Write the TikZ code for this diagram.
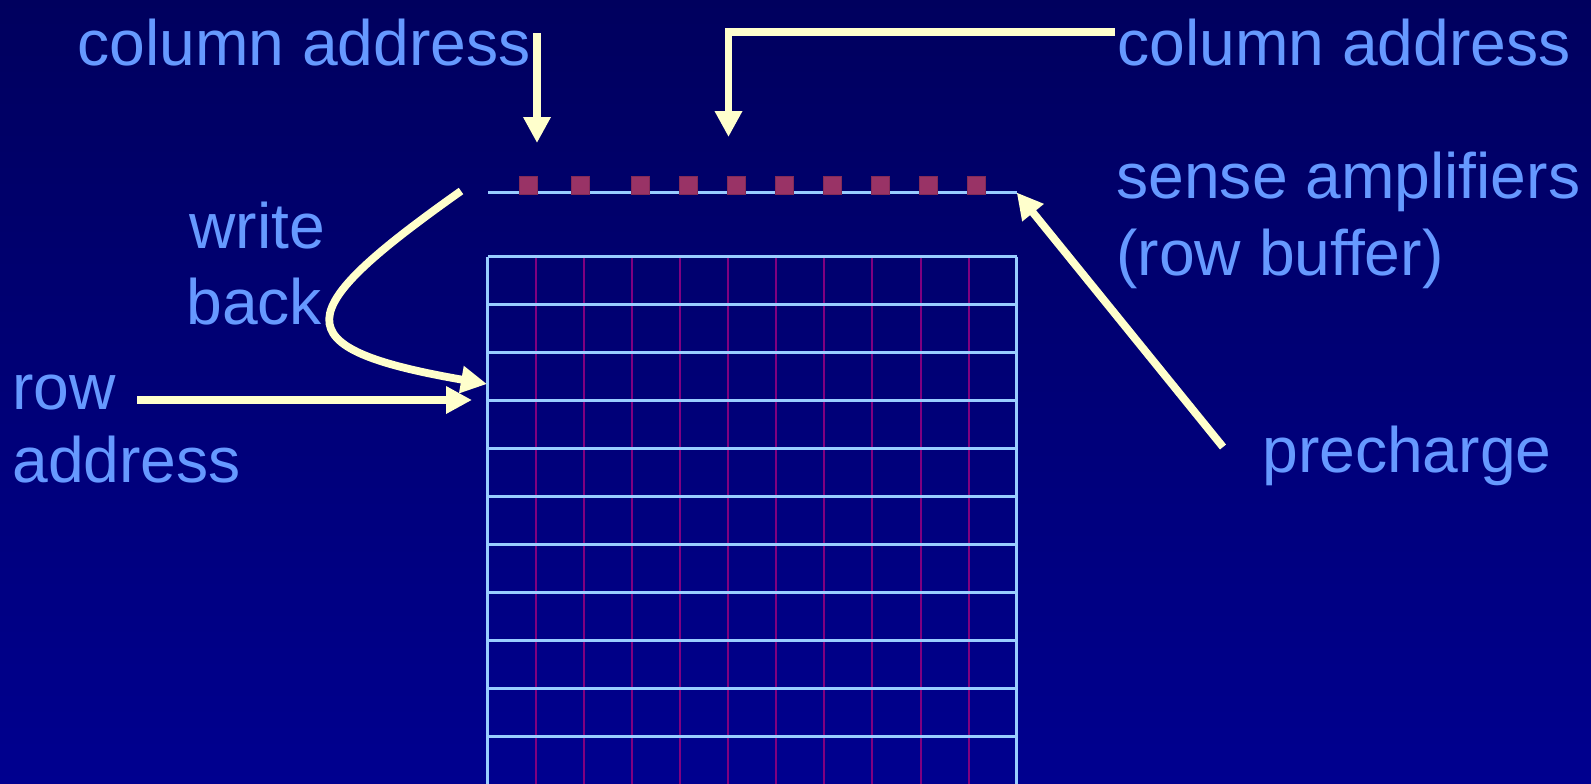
\documentclass[tikz,border=0pt]{standalone}
\usepackage{fontspec}
\setmainfont{Liberation Sans}
\usetikzlibrary{arrows.meta}

\definecolor{bgtop}{RGB}{0,0,94}
\definecolor{bgbot}{RGB}{0,0,143}
\definecolor{lbltext}{HTML}{6699FF}
\definecolor{arrowfill}{HTML}{FFFFCC}
\definecolor{gridblue}{HTML}{99CCFF}
\definecolor{bitline}{HTML}{800080}
\definecolor{senseamp}{HTML}{993366}

\tikzset{
  lbl/.style={text=lbltext, inner sep=0pt, anchor=base west,
              font=\fontsize{32.1pt}{38pt}\selectfont},
  bigarrow/.style={draw=arrowfill, line width=3.9pt,
                   -{Triangle[length=13pt,width=13pt]}},
  rowline/.style={draw=gridblue, line width=1.4pt},
  colline/.style={draw=bitline, line width=1pt},
  ampbox/.style={fill=senseamp, draw=senseamp!85!black, line width=0.4pt}
}

\begin{document}
\begin{tikzpicture}[x=0.5pt,y=-0.5pt]
  % background
  \shade[top color=bgtop, bottom color=bgbot] (0,0) rectangle (1591,783);
  \useasboundingbox (0,0) rectangle (1591,783);

  % memory array: bit lines (purple) and word lines (blue)
  \foreach \k in {1,...,10}
    \draw[colline] (487.8+48.08*\k,256.7) -- (487.8+48.08*\k,790);
  \foreach \k in {0,...,10}
    \draw[rowline] (487.8,256.7+48*\k) -- (1016.7,256.7+48*\k);
  \draw[rowline] (487.8,256.7) -- (487.8,790);
  \draw[rowline] (1016.7,256.7) -- (1016.7,790);

  % row buffer line with sense amplifiers
  \coordinate (bufL) at (487.8,192.5);
  \coordinate (bufR) at (1016.7,192.5);
  \draw[rowline] (bufL) -- (bufR);
  \foreach \cx [count=\i] in {528.4,580.3,640,688.3,736.2,784.3,832.6,880.5,928,976}
    \node[ampbox, minimum width=9pt, minimum height=9pt, inner sep=0pt]
      (amp\i) at (\cx,185.5) {};

  % labels
  \node[lbl] (colA) at (77,65) {column address};
  \node[lbl] (colB) at (1117,65) {column address};
  \node[lbl] (senseA) at (1116,198) {sense amplifiers};
  \node[lbl] (senseB) at (1116,275) {(row buffer)};
  \node[lbl] (wbA) at (189,248) {write};
  \node[lbl] (wbB) at (186,324) {back};
  \node[lbl] (rowA) at (12,409) {row};
  \node[lbl] (rowB) at (12,482) {address};
  \node[lbl] (pre) at (1262,472) {precharge};

  % arrow end points
  \coordinate (colAtail) at (537,33);
  \coordinate (colAtip)  at (537,143);
  \coordinate (colBtail) at (1115,32);
  \coordinate (colBbend) at (728.5,32);
  \coordinate (colBtip)  at (728.5,137);
  \coordinate (rowTail)  at (137,400);
  \coordinate (rowTip)   at (472,400);
  \coordinate (wbTail)   at (461,191);
  \coordinate (wbTip)    at (487,384);
  \coordinate (preTail)  at (1223,447);

  % connectors
  \draw[bigarrow] (colAtail) -- (colAtip);
  \draw[bigarrow, line join=miter] (colBtail) -- (colBbend) -- (colBtip);
  \draw[bigarrow] (rowTail) -- (rowTip);
  \draw[bigarrow] (wbTail) .. controls (290,312) and (280,348) .. (wbTip);
  \draw[bigarrow] (preTail) -- (bufR);
\end{tikzpicture}
\end{document}
